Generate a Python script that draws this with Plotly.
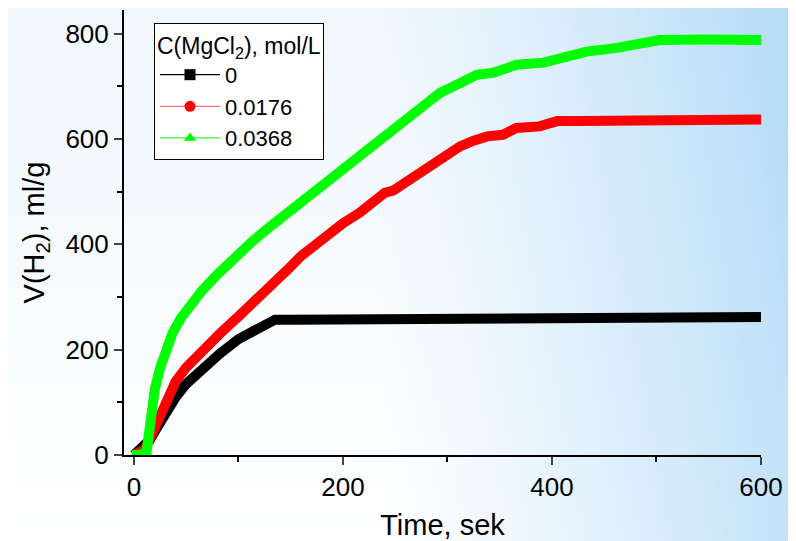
import base64, struct, zlib
import plotly.graph_objects as go

# ---- data ----
t_black = [0, 5, 10, 15, 20, 28, 40, 50, 65, 82, 100, 120, 135, 150, 200, 300, 400, 500, 600]
v_black = [0, 8, 18, 28, 45, 75, 110, 135, 164, 192, 220, 242, 257, 257, 258, 259, 260, 261, 262]

t_red = [0, 5, 10, 15, 22, 31, 40, 50, 65, 82, 100, 114, 130, 146, 160, 177, 200, 216, 229, 240,
         248, 265, 280, 296, 312, 325, 338, 353, 366, 388, 405, 427, 475, 506, 600]
v_red = [0, 4, 10, 30, 62, 108, 140, 166, 198, 230, 263, 288, 320, 350, 378, 406, 440, 460, 482, 498,
         502, 525, 548, 567, 586, 597, 605, 608, 621, 624, 634, 634, 634, 637, 637]

t_green = [-2, 5, 12, 14, 16, 20, 25, 30, 37, 45, 55, 65, 80, 100, 114, 130, 146, 160, 177, 197,
           216, 229, 245, 261, 280, 293, 312, 328, 344, 366, 392, 405, 414, 433, 462, 475, 494, 503, 548, 600]
v_green = [0, 0, 5, 40, 75, 125, 165, 200, 232, 260, 288, 312, 343, 382, 407, 433, 458, 482, 510, 543,
           572, 591, 615, 640, 668, 688, 706, 722, 726, 741, 745, 751, 760, 766, 773, 779, 786, 788, 789, 788]

series_names = ["0", "0.0176", "0.0368"]
x_ticks = [0, 200, 400, 600]
y_ticks = [0, 200, 400, 600, 800]

# ---- geometry (page is offset by the default 8px body margin) ----
OFF = 8
FW, FH = 796 - OFF, 541 - OFF
L, R, T, B = 124 - OFF, 35, 10 - OFF, 86
PW, PH = FW - L - R, FH - T - B

# ---- background gradient image (decoration) ----
W, H = 200, 136
c1 = (184, 221, 247)
rows = b""
for j in range(H):
    py = (j + 0.5) / H * FH + OFF
    row = b"\x00"
    for i in range(W):
        px = (i + 0.5) / W * FW + OFF
        fx = max(0.0, (px - 380) / 416)
        tt = 0.85 * (fx ** 1.2) + 0.22 * (1 - py / 541)
        tt = max(0.0, min(1.0, tt))
        r = int(round(255 + (c1[0] - 255) * tt))
        g = int(round(255 + (c1[1] - 255) * tt))
        b = int(round(255 + (c1[2] - 255) * tt))
        row += bytes((r, g, b))
    rows += row

def chunk(tag, data):
    c = struct.pack(">I", len(data)) + tag + data
    return c + struct.pack(">I", zlib.crc32(tag + data) & 0xFFFFFFFF)

png = b"\x89PNG\r\n\x1a\n" + chunk(b"IHDR", struct.pack(">IIBBBBB", W, H, 8, 2, 0, 0, 0)) \
      + chunk(b"IDAT", zlib.compress(rows, 9)) + chunk(b"IEND", b"")
uri = "data:image/png;base64," + base64.b64encode(png).decode()

# ---- figure ----
fig = go.Figure()
colors = ["#000000", "#ff0000", "#00ff00"]
symbols = ["square", "circle", "triangle-up"]
data = [(t_black, v_black), (t_red, v_red), (t_green, v_green)]
for (tx, vy), col in zip(data, colors):
    fig.add_trace(go.Scatter(x=tx, y=vy, mode="lines", line=dict(color=col, width=10),
                             showlegend=False, cliponaxis=False, hoverinfo="skip"))
leg_line_cols = ["#000000", "#ff7070", "#33ff33"]
for name, col, lc, sym in zip(series_names, colors, leg_line_cols, symbols):
    fig.add_trace(go.Scatter(x=[None], y=[None], mode="lines+markers", name=name,
                             line=dict(color=lc, width=1.2),
                             marker=dict(color=col, symbol=sym, size=11)))

font = "Arial, Liberation Sans, sans-serif"
fig.add_layout_image(dict(source=uri, xref="paper", yref="paper", x=-L / PW, y=1 + T / PH,
                          sizex=FW / PW, sizey=FH / PH, sizing="stretch", layer="below",
                          xanchor="left", yanchor="top"))

fig.update_layout(
    width=FW, height=FH,
    margin=dict(l=L, r=R, t=T, b=B),
    paper_bgcolor="white", plot_bgcolor="rgba(0,0,0,0)",
    font=dict(family=font, size=20, color="black"),
    legend=dict(x=(154 - 124) / PW, y=(455 - 23) / PH, xanchor="left", yanchor="top",
                bgcolor="white", bordercolor="black", borderwidth=1,
                title=dict(text="C(MgCl<sub>2</sub>), mol/L", font=dict(size=23)),
                font=dict(size=22), itemwidth=60, tracegroupgap=0),
    xaxis=dict(range=[-9.5, 600], tickvals=x_ticks, ticks="outside", ticklen=8, tickwidth=2,
               showline=True, linecolor="black", linewidth=2, showgrid=False, zeroline=False,
               tickfont=dict(size=26), automargin=False,
               minor=dict(dtick=100, tick0=0, ticks="outside", ticklen=5, tickwidth=2, tickcolor="black"),
               title=dict(text="Time, sek", font=dict(size=29), standoff=14)),
    yaxis=dict(range=[0, 845], tickvals=y_ticks, ticks="outside", ticklen=8, tickwidth=2,
               showline=True, linecolor="black", linewidth=2, showgrid=False, zeroline=False,
               tickfont=dict(size=26), automargin=False,
               minor=dict(dtick=100, tick0=0, ticks="outside", ticklen=5, tickwidth=2, tickcolor="black"),
               title=dict(text="V(H<sub>2</sub>), ml/g", font=dict(size=29), standoff=12)),
)

fig.write_html("out.html")
